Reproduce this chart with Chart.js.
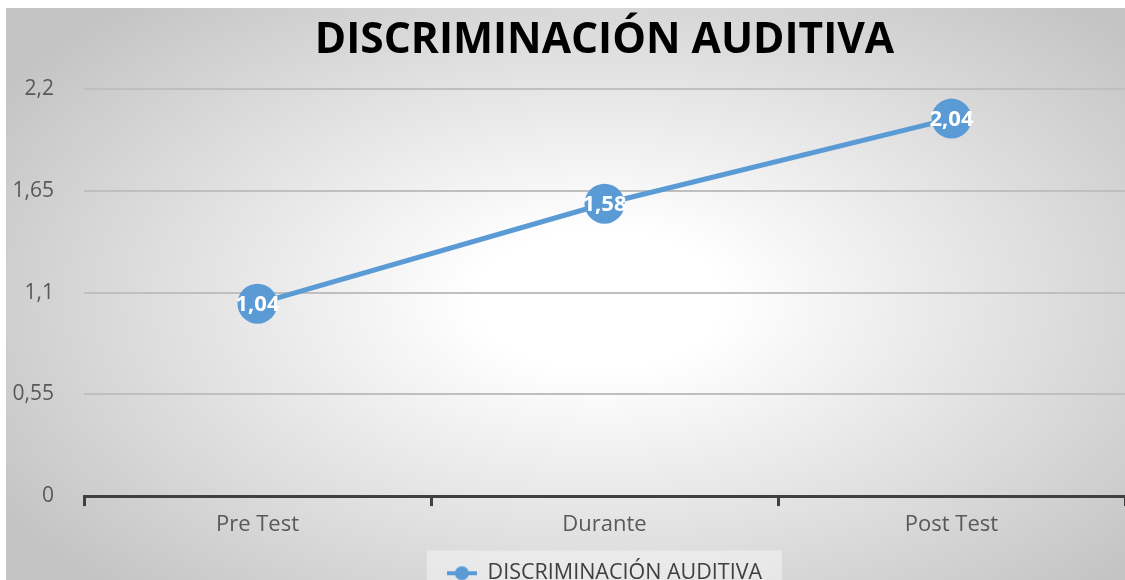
<!DOCTYPE html>
<html>
<head>
<meta charset="utf-8">
<style>
    html, body { margin: 0; padding: 0; overflow: hidden; background: #fff; }
    #wrap { width: 1125px; height: 580px; overflow: hidden; }
</style>
<script src="https://cdn.jsdelivr.net/npm/chart.js@4.4.1/dist/chart.umd.min.js"></script>
</head>
<body>
<div id="wrap"><canvas id="chart" width="1125" height="594"></canvas></div>
<script>
const categories = ['Pre Test', 'Durante', 'Post Test'];
const values = [1.04, 1.58, 2.04];
const yTickValues = [0, 0.55, 1.1, 1.65, 2.2];
const yTickLabels = ['0', '0,55', '1,1', '1,65', '2,2'];
const seriesName = 'DISCRIMINACIÓN AUDITIVA';

document.addEventListener('DOMContentLoaded', () => {
    const blue = '#5b9bd5';
    const font = 'Open Sans';

    // legend marker: line with a dot
    const marker = document.createElement('canvas');
    marker.width = 30;
    marker.height = 16;
    const mctx = marker.getContext('2d');
    mctx.strokeStyle = blue;
    mctx.lineWidth = 4;
    mctx.beginPath();
    mctx.moveTo(0, 8);
    mctx.lineTo(30, 8);
    mctx.stroke();
    mctx.fillStyle = blue;
    mctx.beginPath();
    mctx.arc(15, 8, 7, 0, Math.PI * 2);
    mctx.fill();

    // grey-to-white background + light box behind the legend
    const background = {
        id: 'background',
        beforeDraw(chart) {
            const ctx = chart.ctx;
            ctx.save();
            ctx.fillStyle = '#fff';
            ctx.fillRect(0, 0, chart.width, chart.height);
            ctx.translate(600, 300);
            ctx.scale(1.75, 1);
            const g = ctx.createRadialGradient(0, 0, 70, 0, 0, 400);
            g.addColorStop(0, '#ffffff');
            g.addColorStop(1, '#c4c4c4');
            ctx.fillStyle = g;
            ctx.fillRect((6 - 600) / 1.75, -292, 1125 / 1.75, 600);
            ctx.restore();

            const hb = chart.legend.legendHitBoxes[0];
            if (hb) {
                ctx.save();
                ctx.fillStyle = 'rgba(255, 255, 255, 0.4)';
                ctx.fillRect(hb.left - 20, hb.top - 12, hb.width + 40, chart.height);
                ctx.restore();
            }
        }
    };

    // value labels on the points
    const pointLabels = {
        id: 'pointLabels',
        afterDatasetsDraw(chart) {
            const ctx = chart.ctx;
            const meta = chart.getDatasetMeta(0);
            ctx.save();
            ctx.fillStyle = '#ffffff';
            ctx.font = `bold 22px "${font}"`;
            ctx.textAlign = 'center';
            ctx.textBaseline = 'middle';
            meta.data.forEach((pt, i) => {
                ctx.fillText(values[i].toFixed(2).replace('.', ','), pt.x, pt.y + 1);
            });
            ctx.restore();
        }
    };

    new Chart(document.getElementById('chart'), {
        type: 'line',
        data: {
            labels: categories,
            datasets: [{
                label: seriesName,
                data: values,
                borderColor: blue,
                backgroundColor: blue,
                borderWidth: 5,
                pointRadius: 20,
                pointHoverRadius: 20,
                pointBorderWidth: 0,
                pointBackgroundColor: blue,
                tension: 0,
                clip: false
            }]
        },
        options: {
            responsive: false,
            animation: false,
            layout: {
                autoPadding: false,
                padding: { top: 8, left: 6, right: 0, bottom: 0 }
            },
            plugins: {
                title: {
                    display: true,
                    fullSize: false,
                    text: seriesName,
                    color: '#000000',
                    font: { family: font, size: 42.5, weight: 'bold' },
                    padding: { top: 7, bottom: 23 }
                },
                legend: {
                    position: 'bottom',
                    fullSize: false,
                    labels: {
                        usePointStyle: true,
                        pointStyleWidth: 30,
                        color: '#404040',
                        font: { family: font, size: 21.5 },
                        padding: 20,
                        generateLabels: () => [{
                            text: seriesName,
                            pointStyle: marker,
                            fillStyle: blue,
                            strokeStyle: blue,
                            lineWidth: 0,
                            fontColor: '#404040',
                            datasetIndex: 0
                        }]
                    }
                },
                tooltip: { enabled: false }
            },
            scales: {
                x: {
                    offset: true,
                    afterFit: (scale) => {
                        scale.paddingLeft = 0;
                        scale.paddingRight = 0;
                    },
                    grid: {
                        offset: true,
                        drawOnChartArea: false,
                        drawTicks: true,
                        tickLength: 10,
                        color: '#404040',
                        lineWidth: 3
                    },
                    border: { display: true, color: '#404040', width: 3 },
                    ticks: {
                        color: '#595959',
                        font: { family: font, size: 22 },
                        padding: 5
                    }
                },
                y: {
                    min: 0,
                    max: 2.2,
                    afterBuildTicks: (scale) => {
                        scale.ticks = yTickValues.map(v => ({ value: v }));
                    },
                    afterFit: (scale) => {
                        scale.width = 78;
                    },
                    grid: {
                        drawTicks: false,
                        color: '#bfbfbf',
                        lineWidth: 2
                    },
                    border: { display: false },
                    ticks: {
                        color: '#595959',
                        font: { family: font, size: 21 },
                        padding: 30,
                        callback: (v, i) => yTickLabels[i]
                    }
                }
            }
        },
        plugins: [background, pointLabels]
    });
});
</script>
</body>
</html>
